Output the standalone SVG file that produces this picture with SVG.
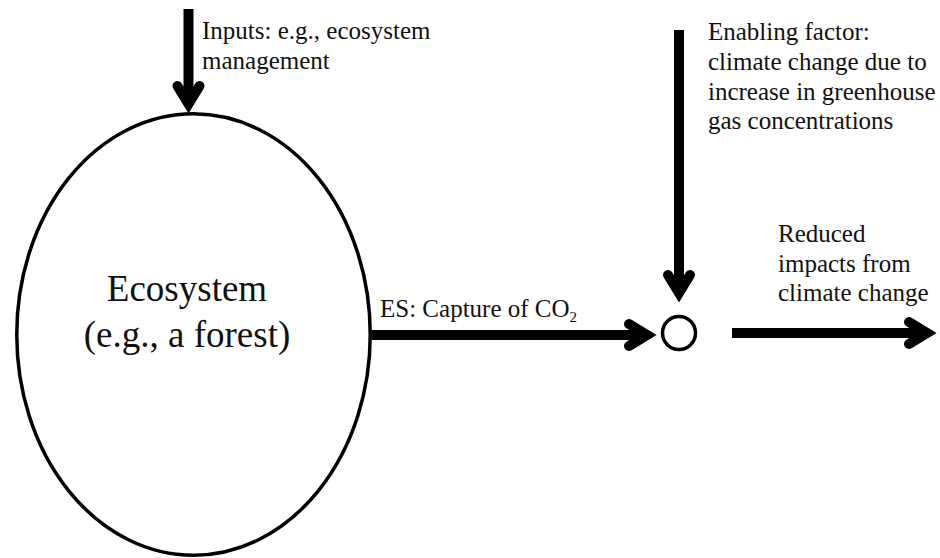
<svg xmlns="http://www.w3.org/2000/svg" width="940" height="558" viewBox="0 0 940 558">
  <style>
    text { font-family: 'Liberation Serif', 'Times New Roman', serif; fill: #111; }
    .lbl { font-size: 25px; }
    .big { font-size: 37px; text-anchor: middle; }
    .shaft { fill: none; stroke: #000; stroke-width: 10; stroke-linecap: butt; }
    .node { fill: #fff; stroke: #000; stroke-width: 3.5; }
  </style>
  <defs>
    <marker id="head" markerUnits="userSpaceOnUse" orient="auto" refX="0" refY="0" markerWidth="40" markerHeight="40" overflow="visible">
      <path d="M-18,-11 L0,0 L-18,11" fill="none" stroke="#000" stroke-width="10" stroke-linecap="round" stroke-linejoin="miter"/>
    </marker>
  </defs>
  <rect width="940" height="558" fill="#fff"/>

  <g id="ecosystem">
    <ellipse class="node" cx="193.5" cy="334.5" rx="176.75" ry="220.75"/>
    <text class="big" x="187" y="301">Ecosystem</text>
    <text class="big" x="187" y="347">(e.g., a forest)</text>
  </g>

  <g id="junction">
    <circle class="node" cx="679" cy="333" r="16.5"/>
  </g>

  <g id="connectors">
    <path class="shaft" d="M188.5,9 L188.5,104" marker-end="url(#head)"/>
    <path class="shaft" d="M372,335 L647,335" marker-end="url(#head)"/>
    <path class="shaft" d="M679,30 L679,293" marker-end="url(#head)"/>
    <path class="shaft" d="M732,333 L927,333" marker-end="url(#head)"/>
  </g>

  <g id="labels">
    <text class="lbl" x="202" y="39">Inputs: e.g., ecosystem</text>
    <text class="lbl" x="202" y="69">management</text>
    <text class="lbl" x="380" y="317">ES: Capture of CO<tspan font-size="15" dy="5">2</tspan></text>
    <text class="lbl" x="708" y="40">Enabling factor:</text>
    <text class="lbl" x="708" y="70">climate change due to</text>
    <text class="lbl" x="708" y="100">increase in greenhouse</text>
    <text class="lbl" x="708" y="129">gas concentrations</text>
    <text class="lbl" x="778" y="242">Reduced</text>
    <text class="lbl" x="778" y="272">impacts from</text>
    <text class="lbl" x="778" y="301">climate change</text>
  </g>
</svg>
